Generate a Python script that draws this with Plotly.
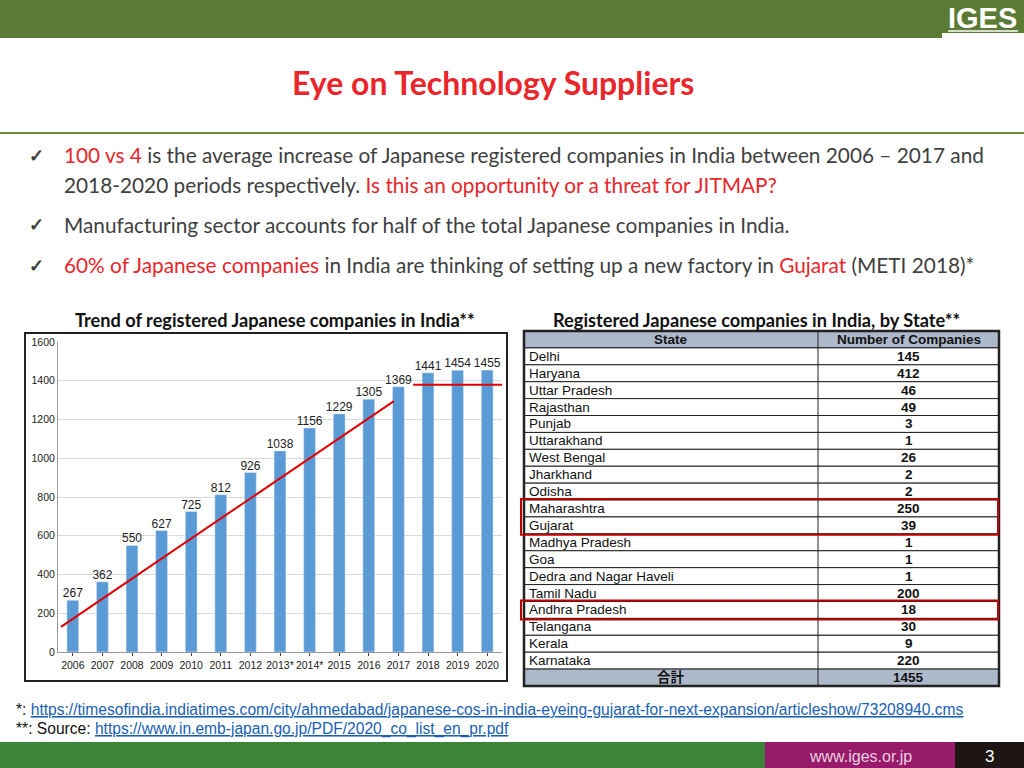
import plotly.graph_objects as go

years = ["2006", "2007", "2008", "2009", "2010", "2011", "2012", "2013*", "2014*",
         "2015", "2016", "2017", "2018", "2019", "2020"]
companies = [267, 362, 550, 627, 725, 812, 926, 1038, 1156, 1229, 1305, 1369, 1441, 1454, 1455]

trend_x = [-0.4, 10.85]
trend_y = [130, 1295]
flat_x = [11.5, 14.5]
flat_y = [1380, 1380]

states = ["Delhi", "Haryana", "Uttar Pradesh", "Rajasthan", "Punjab", "Uttarakhand",
          "West Bengal", "Jharkhand", "Odisha", "Maharashtra", "Gujarat", "Madhya Pradesh",
          "Goa", "Dedra and Nagar Haveli", "Tamil Nadu", "Andhra Pradesh", "Telangana",
          "Kerala", "Karnataka"]
state_counts = [145, 412, 46, 49, 3, 1, 26, 2, 2, 250, 39, 1, 1, 1, 200, 18, 30, 9, 220]
total_label = "合計"
total_count = 1455

# figure is a bit taller than the window; the photo squeezes it back to 768
W, H = 1024, 780
def px(x): return x / W
def py(y): return min(1, max(0, 1 - y / 768))

RED = "#e8262b"
GREY = "#404040"
GREEN = "#5b7a35"
FONT = "Lato"
NARROW = "Liberation Sans Narrow, Arial Narrow, Arial"
TFONT = "Liberation Sans, Noto Sans CJK JP, Arial"

fig = go.Figure()

idx = list(range(len(years)))
fig.add_trace(go.Bar(x=idx, y=companies, marker_color="#5b9bd5", width=0.4, showlegend=False))
fig.add_trace(go.Scatter(x=idx, y=companies, mode="text", text=[str(v) for v in companies],
                         textposition="top center", cliponaxis=False,
                         textfont=dict(size=12, color="#222", family=NARROW), showlegend=False))
fig.add_trace(go.Scatter(x=trend_x, y=trend_y, mode="lines", line=dict(color="#e00000", width=2),
                         showlegend=False))
fig.add_trace(go.Scatter(x=flat_x, y=flat_y, mode="lines", line=dict(color="#e00000", width=2),
                         showlegend=False))

shapes = [
    dict(type="rect", xref="paper", yref="paper", x0=0, x1=px(942), y0=py(38), y1=1,
         fillcolor=GREEN, line_width=0, layer="below"),
    dict(type="rect", xref="paper", yref="paper", x0=px(942), x1=1, y0=py(33), y1=1,
         fillcolor=GREEN, line_width=0, layer="below"),
    dict(type="line", xref="paper", yref="paper", x0=0, x1=1, y0=py(133), y1=py(133),
         line=dict(color="#6a8a3a", width=2)),
    dict(type="rect", xref="paper", yref="paper", x0=px(25), x1=px(507), y0=py(681), y1=py(333),
         line=dict(color="#222", width=2), layer="below"),
    dict(type="line", xref="paper", yref="paper", x0=px(948), x1=px(1018), y0=py(31), y1=py(31),
         line=dict(color="white", width=1.5)),
    dict(type="rect", xref="paper", yref="paper", x0=0, x1=px(765), y0=0, y1=py(742),
         fillcolor="#3c8538", line_width=0),
    dict(type="rect", xref="paper", yref="paper", x0=px(765), x1=px(955), y0=0, y1=py(742),
         fillcolor="#981a6a", line_width=0),
    dict(type="rect", xref="paper", yref="paper", x0=px(955), x1=1, y0=0, y1=py(742),
         fillcolor="#1e1614", line_width=0),
]

def txt(x, y, s, size, color=GREY, xanchor="left", family=FONT):
    return dict(x=px(x), y=py(y), xref="paper", yref="paper", text=s, showarrow=False,
                xanchor=xanchor, yanchor="middle", font=dict(size=size, color=color, family=family))

annotations = []

# table drawn with shapes and text
TX0, TXM, TX1 = 524, 818, 999
TY0, TY1 = 331, 686
rows = [("<b>State</b>", "<b>Number of Companies</b>")] + \
       [(s, f"<b>{v}</b>") for s, v in zip(states, state_counts)] + \
       [(f"<b>{total_label}</b>", f"<b>{total_count}</b>")]
rh = (TY1 - TY0) / len(rows)
for i, (a, b) in enumerate(rows):
    y0 = TY0 + i * rh
    head = i == 0 or i == len(rows) - 1
    shapes.append(dict(type="rect", xref="paper", yref="paper", x0=px(TX0), x1=px(TX1),
                       y0=py(y0 + rh), y1=py(y0), fillcolor="#adb9ca" if head else "white",
                       line=dict(color="#222", width=1), layer="below"))
    if head:
        annotations.append(txt((TX0 + TXM) / 2, y0 + rh / 2, a, 13.5, "#111", "center", TFONT))
    else:
        annotations.append(txt(TX0 + 3, y0 + rh / 2, a, 13.5, "#111", "left", TFONT))
    annotations.append(txt((TXM + TX1) / 2, y0 + rh / 2, b, 13.5, "#111", "center", TFONT))
shapes.append(dict(type="line", xref="paper", yref="paper", x0=px(TXM), x1=px(TXM),
                   y0=py(TY1), y1=py(TY0), line=dict(color="#222", width=1)))
shapes.append(dict(type="rect", xref="paper", yref="paper", x0=px(TX0), x1=px(TX1),
                   y0=py(TY1), y1=py(TY0), line=dict(color="#222", width=2.5)))
for r0, r1 in [(10, 11), (16, 16)]:
    shapes.append(dict(type="rect", xref="paper", yref="paper", x0=px(521), x1=px(998),
                       y0=py(TY0 + (r1 + 1) * rh + 1), y1=py(TY0 + r0 * rh - 1),
                       line=dict(color="#c00000", width=2)))

R = lambda s: f"<span style='color:{RED}'>{s}</span>"
annotations += [
    txt(493, 83, "<b>Eye on Technology Suppliers</b>", 32, RED, "center"),
    txt(982, 18, "<b>IGES</b>", 29, "white", "center", NARROW),
    txt(27, 155, "<b>✓</b>", 18, GREY),
    txt(62, 155, R("100 vs 4") + " is the average increase of Japanese registered companies in India between 2006 – 2017 and", 20.8),
    txt(62, 184, "2018-2020 periods respectively. " + R("Is this an opportunity or a threat for JITMAP?"), 20.8),
    txt(27, 224, "<b>✓</b>", 18, GREY),
    txt(62, 224, "Manufacturing sector accounts for half of the total Japanese companies in India.", 20.8),
    txt(27, 265, "<b>✓</b>", 18, GREY),
    txt(62, 265, R("60% of Japanese companies") + " in India are thinking of setting up a new factory in "
        + R("Gujarat") + " (METI 2018)*", 20.8),
    txt(275, 320, "<b>Trend of registered Japanese companies in India**</b>", 18.2, "#111", "center"),
    txt(756, 320, "<b>Registered Japanese companies in India, by State**</b>", 18.2, "#111", "center"),
    txt(14, 709, "*: <span style='color:#1a5fb4'><u>https://timesofindia.indiatimes.com/city/ahmedabad/japanese-cos-in-india-eyeing-gujarat-for-next-expansion/articleshow/73208940.cms</u></span>",
        15.6, "#111", family="Liberation Sans, Arial"),
    txt(14, 729, "**: Source: <span style='color:#1a5fb4'><u>https://www.in.emb-japan.go.jp/PDF/2020_co_list_en_pr.pdf</u></span>",
        15.6, "#111", family="Liberation Sans, Arial"),
    txt(860, 756, "www.iges.or.jp", 16, "#e8d0e0", "center", "Liberation Sans, Arial"),
    txt(989, 756, "3", 17, "white", "center", "Liberation Sans, Arial"),
]

fig.update_layout(
    width=W, height=H, margin=dict(l=0, r=0, t=0, b=0),
    paper_bgcolor="white", plot_bgcolor="white",
    shapes=shapes, annotations=annotations, bargap=0.5,
    xaxis=dict(domain=[px(58), px(502)], range=[-0.5, 14.5], tickmode="array",
               tickvals=idx, ticktext=years, tickangle=0, showgrid=False, showline=True,
               linecolor="#999", ticks="outside", ticklen=3,
               tickfont=dict(size=10.5, color="#222", family=NARROW)),
    yaxis=dict(domain=[py(652), py(342)], range=[0, 1600], dtick=200, showgrid=True,
               gridcolor="#d9d9d9", showline=True, linecolor="#999", zeroline=False,
               tickfont=dict(size=10.5, color="#222", family=NARROW)),
)

fig.write_html("out.html", config={"displayModeBar": False},
               post_script="document.body.style.margin='0';document.body.style.overflow='hidden';"
                           "document.body.style.marginTop='-6px';")
